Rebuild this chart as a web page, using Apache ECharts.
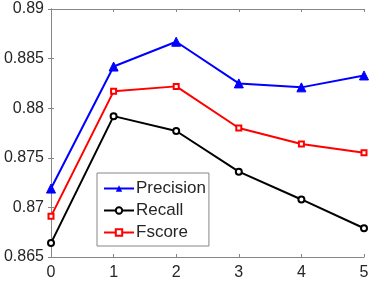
<!DOCTYPE html>
<html>
<head>
<meta charset="utf-8">
<script src="https://cdn.jsdelivr.net/npm/echarts@6/dist/echarts.min.js"></script>
<style>
html,body{margin:0;padding:0;background:#fff;}
#chart{width:374px;height:286px;}
</style>
</head>
<body>
<div id="chart"></div>
<script>
var categories = [0, 1, 2, 3, 4, 5];
var precision = [0.8719, 0.8842, 0.8867, 0.8825, 0.8821, 0.8833];
var recall = [0.8664, 0.8792, 0.8777, 0.8736, 0.8708, 0.8679];
var fscore = [0.8691, 0.8817, 0.8822, 0.8780, 0.8764, 0.8755];
var yTicks = [0.865, 0.87, 0.875, 0.88, 0.885, 0.89];

function pairs(vals) { return categories.map(function (c, i) { return [c, vals[i]]; }); }

var font = 'Liberation Sans, Arial, sans-serif';
var axisColor = '#868686';
var textColor = '#262626';

var chart = echarts.init(document.getElementById('chart'));
chart.setOption({
  animation: false,
  backgroundColor: '#fff',
  grid: { left: 51, right: 10, top: 9, bottom: 29 },
  legend: {
    left: 97, top: 173,
    orient: 'vertical',
    itemWidth: 30, itemHeight: 8, itemGap: 5,
    padding: [7, 3, 5, 6],
    borderColor: '#868686', borderWidth: 1,
    backgroundColor: '#fff',
    textStyle: { fontFamily: font, fontSize: 17, lineHeight: 14, color: textColor, padding: [0, 0, 0, -3] },
    data: ['Precision', 'Recall', 'Fscore']
  },
  xAxis: [{
    type: 'value', min: 0, max: 5, interval: 1,
    axisLine: { show: true, lineStyle: { color: axisColor, width: 1 } },
    axisTick: { show: true, inside: true, length: 3, lineStyle: { color: axisColor } },
    axisLabel: { fontFamily: font, fontSize: 16, color: textColor, margin: 8 },
    splitLine: { show: false }
  }, {
    type: 'value', min: 0, max: 5, interval: 1, position: 'top',
    axisLine: { show: true, lineStyle: { color: axisColor, width: 1 } },
    axisTick: { show: true, inside: true, length: 3, lineStyle: { color: axisColor } },
    axisLabel: { show: false },
    splitLine: { show: false }
  }],
  yAxis: [{
    type: 'value', min: 0.865, max: 0.89, interval: 0.005,
    axisLine: { show: true, lineStyle: { color: axisColor, width: 1 } },
    axisTick: { show: true, inside: true, length: 3, lineStyle: { color: axisColor } },
    axisLabel: {
      fontFamily: font, fontSize: 16, color: textColor, margin: 7,
      formatter: function (v) {
        var s = yTicks.find(function (t) { return Math.abs(t - v) < 1e-9; });
        return s === undefined ? '' : String(s);
      }
    },
    splitLine: { show: false }
  }, {
    type: 'value', min: 0.865, max: 0.89, interval: 0.005, position: 'right',
    axisLine: { show: true, lineStyle: { color: axisColor, width: 1 } },
    axisTick: { show: true, inside: true, length: 3, lineStyle: { color: axisColor } },
    axisLabel: { show: false },
    splitLine: { show: false }
  }],
  series: [{
    name: 'Precision', type: 'line', data: pairs(precision),
    symbol: 'triangle', symbolSize: 9,
    lineStyle: { color: '#0000ff', width: 2 },
    itemStyle: { color: '#0000ff', borderColor: '#0000ff' },
    z: 3
  }, {
    name: 'Recall', type: 'line', data: pairs(recall),
    symbol: 'emptyCircle', symbolSize: 6,
    lineStyle: { color: '#000000', width: 2 },
    itemStyle: { color: '#000000', borderColor: '#000000', borderWidth: 1.5 },
    z: 2
  }, {
    name: 'Fscore', type: 'line', data: pairs(fscore),
    symbol: 'emptyRect', symbolSize: 5,
    lineStyle: { color: '#ff0000', width: 2 },
    itemStyle: { color: '#ff0000', borderColor: '#ff0000', borderWidth: 1.5 },
    z: 2
  }]
});
</script>
</body>
</html>
